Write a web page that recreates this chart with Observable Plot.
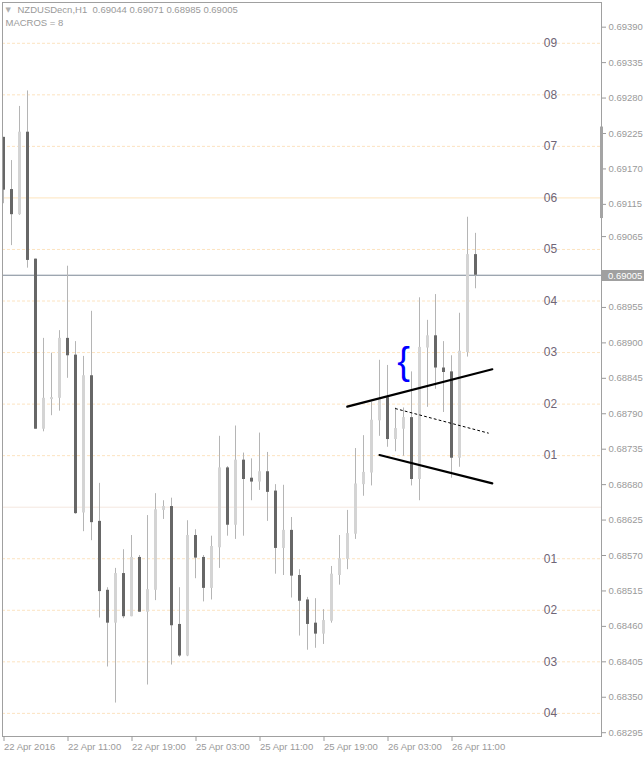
<!DOCTYPE html>
<html><head><meta charset="utf-8">
<script src="https://cdn.jsdelivr.net/npm/d3@7"></script>
<script src="https://cdn.jsdelivr.net/npm/@observablehq/plot@0.6"></script>
<style>html,body{margin:0;padding:0;background:#fff}#chart{width:644px;height:758px}</style>
</head><body><div id="chart"></div>
<script>
// ---- data (H1 bars, index 0 = 22 Apr 03:00) ----
const opens  = [0.69219,0.69138,0.69099,0.69227,0.69030,0.68766,0.68812,0.68814,0.68907,0.68881,
                0.68636,0.68849,0.68623,0.68516,0.68465,0.68542,0.68475,0.68567,0.68482,0.68516,
                0.68640,0.68646,0.68463,0.68414,0.68601,0.68567,0.68519,0.68582,0.68706,0.68617,
                0.68718,0.68690,0.68684,0.68700,0.68670,0.68581,0.68609,0.68539,0.68501,0.68465,
                0.68448,0.68468,0.68539,0.68564,0.68603,0.68680,0.68698,0.68779,0.68815,0.68750,
                0.68766,0.68784,0.68688,0.68892,0.68911,0.68861,0.68855,0.68721,0.68885,0.69037];
const highs  = [0.69219,0.69183,0.69267,0.69291,0.69030,0.68907,0.68884,0.68919,0.69019,0.68902,
                0.68879,0.68949,0.68682,0.68520,0.68550,0.68579,0.68601,0.68570,0.68632,0.68666,
                0.68655,0.68659,0.68520,0.68624,0.68610,0.68570,0.68600,0.68755,0.68708,0.68771,
                0.68729,0.68720,0.68760,0.68730,0.68680,0.68679,0.68629,0.68548,0.68505,0.68503,
                0.68486,0.68553,0.68601,0.68640,0.68736,0.68756,0.68808,0.68873,0.68865,0.68799,
                0.68799,0.68855,0.68970,0.68935,0.68975,0.68902,0.68880,0.68946,0.69095,0.69070];
const lows   = [0.69116,0.69051,0.69098,0.69016,0.68766,0.68762,0.68787,0.68794,0.68845,0.68634,
                0.68607,0.68593,0.68473,0.68397,0.68341,0.68472,0.68475,0.68482,0.68369,0.68500,
                0.68626,0.68400,0.68412,0.68413,0.68534,0.68498,0.68501,0.68550,0.68600,0.68595,
                0.68600,0.68655,0.68671,0.68623,0.68541,0.68539,0.68504,0.68445,0.68423,0.68426,
                0.68432,0.68465,0.68524,0.68548,0.68595,0.68662,0.68678,0.68755,0.68738,0.68731,
                0.68724,0.68678,0.68655,0.68800,0.68828,0.68792,0.68690,0.68707,0.68878,0.68984];
const closes = [0.69137,0.69099,0.69227,0.69028,0.68766,0.68814,0.68815,0.68907,0.68880,0.68635,
                0.68849,0.68621,0.68514,0.68465,0.68542,0.68475,0.68567,0.68482,0.68517,0.68641,
                0.68646,0.68461,0.68414,0.68601,0.68566,0.68519,0.68584,0.68706,0.68617,0.68718,
                0.68688,0.68684,0.68700,0.68668,0.68581,0.68609,0.68538,0.68499,0.68463,0.68448,
                0.68469,0.68541,0.68565,0.68604,0.68681,0.68699,0.68780,0.68812,0.68750,0.68767,
                0.68784,0.68688,0.68893,0.68911,0.68861,0.68854,0.68721,0.68887,0.69037,0.69005];

const xTickIndex  = [0, 8, 16, 24, 32, 40, 48, 56];
const xTickLabels = ["22 Apr 2016","22 Apr 11:00","22 Apr 19:00","25 Apr 03:00","25 Apr 11:00","25 Apr 19:00","26 Apr 03:00","26 Apr 11:00"];
const yTickValues = [0.69390,0.69335,0.69280,0.69225,0.69170,0.69115,0.69065,0.68955,0.68900,
                     0.68845,0.68790,0.68735,0.68680,0.68625,0.68570,0.68515,0.68460,0.68405,0.68350,0.68295];

// MACROS levels
const levelNumbers = [9, 8, 7, 6, 5, 4, 3, 2, 1, 0, -1, -2, -3, -4];
const levelPrices  = [0.69365,0.69285,0.69205,0.69125,0.69045,0.68965,0.68885,0.68805,0.68725,0.68645,
                      0.68565,0.68485,0.68405,0.68325];

const symbolName = "NZDUSDecn,H1";
const headerOHLC = ["0.69044","0.69071","0.68985","0.69005"];
const macrosValue = 8;
const lastPrice = 0.69005;
const axisMarkerPrices = [0.69235, 0.69093];

// hand-drawn objects
const upperLineIdx = [42.97, 61.1], upperLinePrice = [0.68801, 0.68859];
const lowerLineIdx = [47.0, 61.1],  lowerLinePrice = [0.68726, 0.68682];
const midLineIdx   = [49.0, 60.6],  midLinePrice   = [0.68798, 0.68760];
const braceIdx = [50.0], bracePrice = [0.68870];

// ---- build tables ----
const bars = opens.map((o, i) => ({i, o, h: highs[i], l: lows[i], c: closes[i]}));
const upBars = bars.filter(d => d.c >= d.o);
const dnBars = bars.filter(d => d.c < d.o);
const levels = levelNumbers.map((n, i) => ({n, p: levelPrices[i], label: n === 0 ? "" : String(Math.abs(n)).padStart(2, "0")}));
const seg = (xs, ys) => xs.map((x, i) => ({x, y: ys[i]}));

const plot = Plot.plot({
  width: 644, height: 758,
  marginLeft: 2, marginRight: 43, marginTop: 2, marginBottom: 22,
  style: {fontFamily: "'Liberation Sans', Arial, sans-serif", fontSize: "9.5px", color: "#9a9a9a", background: "#ffffff", overflow: "visible"},
  x: {domain: [-0.125, 74.75], axis: null},
  y: {domain: [0.682891, 0.694283], axis: null},
  marks: [
    Plot.ruleY(levels.filter(d => d.n !== 0 && d.n !== 6), {y: "p", stroke: "#fce3c0", strokeDasharray: "3,2"}),
    Plot.ruleY(levels.filter(d => d.n === 6), {y: "p", stroke: "#fde5bd"}),
    Plot.ruleY(levels.filter(d => d.n === 0), {y: "p", stroke: "#f4e7df"}),
    Plot.text(levels.filter(d => d.label), {y: "p", text: "label", frameAnchor: "right", dx: -51, textAnchor: "middle", fill: "#6f6577", fontSize: 12}),
    Plot.ruleY([lastPrice], {stroke: "#7a8794"}),
    Plot.ruleX(bars, {x: "i", y1: "l", y2: "h", stroke: "#b5b5b5"}),
    Plot.ruleX(upBars, {x: "i", y1: "o", y2: "c", stroke: "#d4d4d4", strokeWidth: 3}),
    Plot.ruleX(dnBars, {x: "i", y1: "o", y2: "c", stroke: "#676767", strokeWidth: 3}),
    Plot.line(seg(upperLineIdx, upperLinePrice), {x: "x", y: "y", stroke: "#000", strokeWidth: 2.2}),
    Plot.line(seg(lowerLineIdx, lowerLinePrice), {x: "x", y: "y", stroke: "#000", strokeWidth: 2.2}),
    Plot.line(seg(midLineIdx, midLinePrice), {x: "x", y: "y", stroke: "#000", strokeWidth: 1, strokeDasharray: "2,3"}),
    Plot.text(braceIdx.map((x, i) => ({x, y: bracePrice[i]})), {x: "x", y: "y", text: () => "{", fill: "#0000ff", fontSize: 38, fontFamily: "'Liberation Sans', Arial, sans-serif"}),
    Plot.frame({stroke: "#a0a0a0"}),
    Plot.axisX({ticks: xTickIndex, tickFormat: d => xTickLabels[xTickIndex.indexOf(d)], tickSize: 5, tickPadding: 2, textAnchor: "start", dx: 0.5}),
    Plot.axisY({anchor: "right", ticks: yTickValues, tickFormat: d => d.toFixed(5), tickSize: 4, tickPadding: 3}),
    Plot.text(["\u25BC"], {frameAnchor: "top-left", dx: 3, dy: 5, textAnchor: "start", lineAnchor: "top", fill: "#b0b0b0", fontSize: 7, fontFamily: "'DejaVu Sans', sans-serif"}),
    Plot.text([symbolName + "  " + headerOHLC.join(" ")], {frameAnchor: "top-left", dx: 15, dy: 4, textAnchor: "start", lineAnchor: "top", fill: "#9a9a9a"}),
    Plot.text(["MACROS = " + macrosValue], {frameAnchor: "top-left", dx: 3, dy: 17, textAnchor: "start", lineAnchor: "top", fill: "#9a9a9a"})
  ]
});

document.getElementById("chart").appendChild(plot);

// price tag on the axis and the axis marker, positioned through Plot's scales
const ys = plot.scale("y"), xs = plot.scale("x");
const svg = d3.select(plot);
const xr = xs.range[1];
const yp = Math.round(ys.apply(lastPrice));
svg.append("rect").attr("x", xr + 1).attr("y", yp - 5).attr("width", 644 - xr - 1).attr("height", 11).attr("fill", "#a0a0a0");
svg.append("text").attr("x", xr + 7).attr("y", yp + 0.5).attr("dy", "0.32em").attr("fill", "#ffffff")
  .attr("text-anchor", "start").attr("font-size", "9.5px").text(lastPrice.toFixed(5));
const ym1 = ys.apply(axisMarkerPrices[0]), ym2 = ys.apply(axisMarkerPrices[1]);
svg.append("rect").attr("x", xr - 1).attr("y", ym1).attr("width", 3).attr("height", ym2 - ym1).attr("fill", "#a4a4a4");
</script></body></html>
